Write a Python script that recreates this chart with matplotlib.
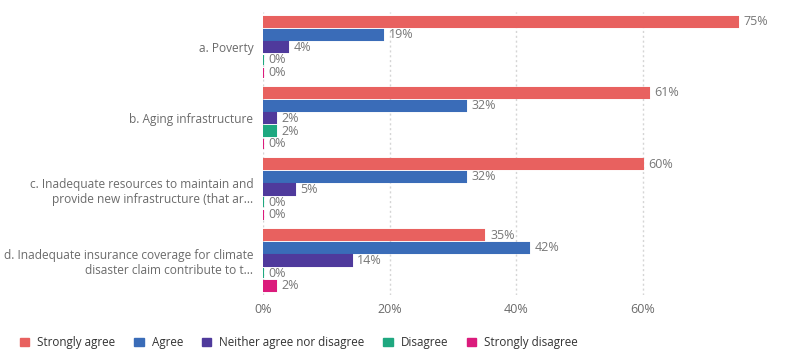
import matplotlib.pyplot as plt
import numpy as np
from matplotlib.patches import Patch

plt.rcParams['font.family'] = ['Open Sans', 'DejaVu Sans']

questions = [
    'a. Poverty',
    'b. Aging infrastructure',
    'c. Inadequate resources to maintain and\nprovide new infrastructure (that ar...',
    'd. Inadequate insurance coverage for climate\ndisaster claim contribute to t...',
]
responses = ['Strongly agree', 'Agree', 'Neither agree nor disagree',
             'Disagree', 'Strongly disagree']
colors = ['#E8615F', '#3A6CB8', '#4F3A9C', '#1FA880', '#DB1B7C']

strongly_agree = [75, 61, 60, 35]
agree = [19, 32, 32, 42]
neither = [4, 2, 5, 14]
disagree = [0, 2, 0, 0]
strongly_disagree = [0, 0, 0, 2]
values = [strongly_agree, agree, neither, disagree, strongly_disagree]

text_col = '#6b6b6b'
group_gap = 5.6

fig = plt.figure(figsize=(7.85, 3.56), dpi=100)
ax = fig.add_axes([0.335, 0.172, 0.645, 0.795])

for j, (name, vals, c) in enumerate(zip(responses, values, colors)):
    y = np.arange(len(questions)) * group_gap + j
    ax.barh(y, vals, height=0.8, color=c, edgecolor=c, linewidth=1.5, zorder=3)
    for yy, v in zip(y, vals):
        ax.text(v + 0.9, yy, f'{v}%', va='center', ha='left',
                fontsize=9, color='#777777', zorder=4)

ax.set_xlim(0, 80)
ax.set_ylim(21.5, -0.8)
ax.set_xticks([0, 20, 40, 60])
ax.set_xticklabels(['0%', '20%', '40%', '60%'], fontsize=9)
ax.set_yticks(np.arange(len(questions)) * group_gap + 2)
ax.set_yticklabels(questions, fontsize=8.6)
ax.tick_params(axis='both', length=0, colors=text_col)
ax.tick_params(axis='y', pad=7)
ax.tick_params(axis='x', pad=6)
for lbl in ax.get_yticklabels():
    lbl.set_ha('right')
    lbl.set_multialignment('right')
ax.grid(axis='x', color='#d5d5d5', linestyle=(0, (1.5, 2)), linewidth=1, zorder=0)
for s in ax.spines.values():
    s.set_visible(False)

handles = [Patch(facecolor=c, edgecolor=c, label=n) for n, c in zip(responses, colors)]
fig.legend(handles=handles, loc='lower left', bbox_to_anchor=(0.012, -0.01),
           ncol=5, frameon=False, fontsize=8.4, handlelength=0.8, handleheight=0.8,
           columnspacing=1.6, handletextpad=0.7, labelcolor='#333333')

fig.savefig('out.png', dpi=100)
